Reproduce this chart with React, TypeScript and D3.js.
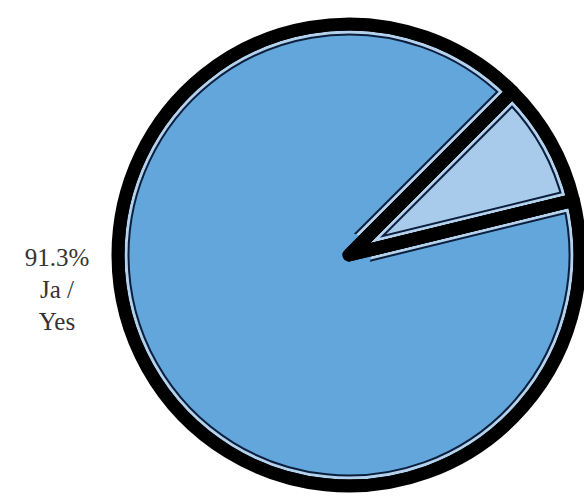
import React from "react";
import * as d3 from "d3";

const categories = ["Ja / Yes", "Nein / No"];
const values = [91.3, 8.7];
const colors = ["#62a6dc", "#a9cbeb"];
const labelLines = ["91.3%", "Ja /", "Yes"];

const W = 584;
const H = 501;
const cx = 349;
const cy = 255;
const R = 231;
const startDeg = 76.3;

export default function App() {
  const pie = d3
    .pie<number>()
    .sort(null)
    .value((d) => d)
    .startAngle((startDeg * Math.PI) / 180)
    .endAngle((startDeg * Math.PI) / 180 + 2 * Math.PI);
  const arcs = pie(values);
  const arc = d3.arc<d3.PieArcDatum<number>>().innerRadius(0).outerRadius(R);

  return (
    <svg
      width={W}
      height={H}
      style={{ position: "absolute", left: 0, top: 0, background: "#fff" }}
    >
      <defs>
        {arcs.map((a, i) => (
          <clipPath id={`clip-${i}`} key={i}>
            <path d={arc(a) || ""} />
          </clipPath>
        ))}
        <mask id="apexMask" maskUnits="userSpaceOnUse" x={-W} y={-H} width={2 * W} height={2 * H}>
          <rect x={-W} y={-H} width={2 * W} height={2 * H} fill="#fff" />
          <circle cx={0} cy={0} r={22} fill="#000" />
        </mask>
      </defs>
      <g transform={`translate(${cx},${cy})`}>
        {arcs.map((a, i) => {
          const d = arc(a) || "";
          const big = a.endAngle - a.startAngle > Math.PI;
          return (
            <g key={categories[i]} clipPath={`url(#clip-${i})`}>
              <path d={d} fill={colors[i]} />
              <g mask={big ? "url(#apexMask)" : undefined}>
                <path d={d} fill="none" stroke="#0b1f3c" strokeWidth={23} strokeLinejoin="round" />
                <path d={d} fill="none" stroke="#b4d2ee" strokeWidth={19} strokeLinejoin="round" />
                <path d={d} fill={colors[i]} fillOpacity={0} stroke="#000" strokeWidth={13} strokeLinejoin="round" />
              </g>
            </g>
          );
        })}
        {arcs.map((a, i) => (
          <path
            key={"o" + i}
            d={arc(a) || ""}
            fill="none"
            stroke="#000"
            strokeWidth={13}
            strokeLinejoin="round"
          />
        ))}
      </g>
      <g fontFamily="'Liberation Serif', 'DejaVu Serif', serif" fontSize={25} fill="#333" textAnchor="middle">
        {labelLines.map((t, i) => (
          <text key={i} x={57} y={266 + i * 32}>
            {t}
          </text>
        ))}
      </g>
    </svg>
  );
}
